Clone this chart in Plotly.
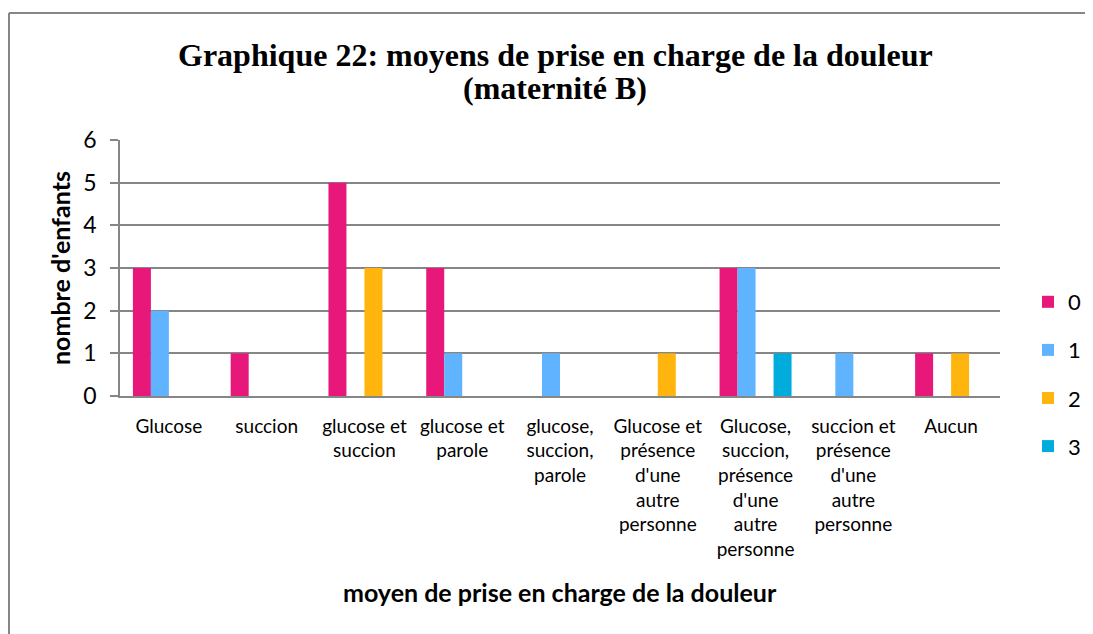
import plotly.graph_objects as go

categories = [
    "Glucose",
    "succion",
    "glucose et<br>succion",
    "glucose et<br>parole",
    "glucose,<br>succion,<br>parole",
    "Glucose et<br>présence<br>d'une<br>autre<br>personne",
    "Glucose,<br>succion,<br>présence<br>d'une<br>autre<br>personne",
    "succion et<br>présence<br>d'une<br>autre<br>personne",
    "Aucun",
]
series_names = ["0", "1", "2", "3"]
values_0 = [3, 1, 5, 3, 0, 0, 3, 0, 1]
values_1 = [2, 0, 0, 1, 1, 0, 3, 1, 0]
values_2 = [0, 0, 3, 0, 0, 1, 0, 0, 1]
values_3 = [0, 0, 0, 0, 0, 0, 1, 0, 0]
series_values = [values_0, values_1, values_2, values_3]
colors = ["#E8177A", "#60B4FF", "#FFB50D", "#00ACDC"]

OFF = 8  # page body margin
W, H = 1093 - OFF, 634 - OFF
# plot area in reference pixels: x 120..1000, y 140..396
L = 120 - OFF
T = 140 - OFF
R = W - (1000 - OFF)
B = H - (396 - OFF)
pw, ph = W - L - R, H - T - B

def px_x(rx):
    return (rx - OFF - L) / pw

def px_y(ry):
    return (H - B - (ry - OFF)) / ph

fig = go.Figure()
for name, vals, col in zip(series_names, series_values, colors):
    fig.add_trace(go.Bar(
        x=categories, y=vals, name=name, legendgroup=name,
        marker=dict(color=col, line=dict(width=0)),
    ))

font_main = "Lato, 'Open Sans', sans-serif"
serif = "'Liberation Serif', 'Times New Roman', serif"
fig.update_layout(
    width=W, height=H, autosize=False,
    margin=dict(l=L, r=R, t=T, b=B, autoexpand=False),
    paper_bgcolor="white", plot_bgcolor="white",
    barmode="group", bargap=0.264, bargroupgap=0,
    font=dict(family=font_main, color="black"),
    xaxis=dict(
        showgrid=False, showline=True, linecolor="#868686", linewidth=1.5,
        ticks="", tickfont=dict(size=19, family=font_main),
        ticklabelstandoff=12, fixedrange=True,
    ),
    yaxis=dict(
        range=[0, 6], dtick=1, showgrid=True, gridcolor="#868686", gridwidth=1.5,
        showline=True, linecolor="#868686", linewidth=1.5,
        ticks="outside", ticklen=8, tickcolor="#868686", tickwidth=1.5,
        tickfont=dict(size=23, family=font_main), zeroline=False,
        ticklabelstandoff=9,
    ),
    legend=dict(
        x=px_x(1028), xanchor="left", y=px_y(281), yanchor="top",
        traceorder="grouped", tracegroupgap=16.5,
        font=dict(size=22, family=font_main), itemwidth=30,
        bgcolor="rgba(0,0,0,0)",
    ),
    showlegend=True,
)

# title (two lines, as in the reference)
fig.add_annotation(
    text="<b>Graphique 22: moyens de prise en charge de la douleur</b>",
    x=px_x(555), y=px_y(55), xref="paper", yref="paper",
    xanchor="center", yanchor="middle",
    showarrow=False, font=dict(size=32, family=serif, color="black"),
)
fig.add_annotation(
    text="<b>(maternité B)</b>",
    x=px_x(555), y=px_y(88), xref="paper", yref="paper",
    xanchor="center", yanchor="middle",
    showarrow=False, font=dict(size=32, family=serif, color="black"),
)

fig.add_annotation(
    text="<b>nombre d'enfants</b>", textangle=-90,
    x=px_x(60), y=px_y(268), xref="paper", yref="paper",
    xanchor="center", yanchor="middle",
    showarrow=False, font=dict(size=25, family=font_main, color="black"),
)
fig.add_annotation(
    text="<b>moyen de prise en charge de la douleur</b>",
    x=px_x(560), y=px_y(592), xref="paper", yref="paper",
    xanchor="center", yanchor="middle",
    showarrow=False, font=dict(size=25, family=font_main, color="black"),
)

# outer chart border (top and left visible)
fig.add_shape(type="line", xref="paper", yref="paper",
              x0=px_x(9), x1=px_x(1100), y0=px_y(13), y1=px_y(13),
              line=dict(color="#868686", width=2))
fig.add_shape(type="line", xref="paper", yref="paper",
              x0=px_x(9), x1=px_x(9), y0=px_y(13), y1=px_y(640),
              line=dict(color="#868686", width=2))

fig.write_html("out.html")
